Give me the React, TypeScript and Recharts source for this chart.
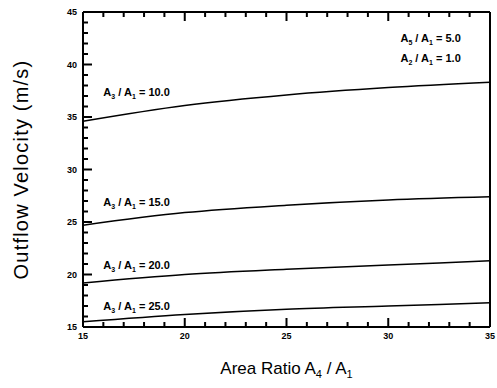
import React from "react";
import { LineChart, Line, XAxis, YAxis, ReferenceDot } from "recharts";

// ---- data ----
const areaRatio = [15, 20, 25, 30, 35];
const velR10 = [34.6, 36.1, 37.1, 37.8, 38.3];
const velR15 = [24.7, 25.9, 26.6, 27.1, 27.4];
const velR20 = [19.2, 20.0, 20.5, 20.9, 21.3];
const velR25 = [15.5, 16.2, 16.7, 17.0, 17.3];

const xTicks = [15,16,17,18,19,20,21,22,23,24,25,26,27,28,29,30,31,32,33,34,35];
const yTicks = [15,16,17,18,19,20,21,22,23,24,25,26,27,28,29,30,31,32,33,34,35,36,37,38,39,40,41,42,43,44,45];

// curve labels: [x, y, numerator subscript, denominator subscript, value]
const curveLabels: [number, number, string, string, string][] = [
  [16.0, 37.0, "3", "1", "10.0"],
  [16.0, 26.5, "3", "1", "15.0"],
  [16.0, 20.5, "3", "1", "20.0"],
  [16.0, 16.6, "3", "1", "25.0"],
];
const paramLabels: [number, number, string, string, string][] = [
  [30.6, 42.1, "5", "1", "5.0"],
  [30.6, 40.2, "2", "1", "1.0"],
];

const data = areaRatio.map((x, i) => ({
  x,
  r10: velR10[i],
  r15: velR15[i],
  r20: velR20[i],
  r25: velR25[i],
}));

const FONT = "'Liberation Sans', Arial, Helvetica, sans-serif";
const isMajor = (v: number) => v % 5 === 0;
const MAJ = 9;
const MIN = 5;
const TW = 2;
const TC = "#000";

const BottomTick = (props: any) => {
  const { x, y, payload } = props;
  const v = payload.value;
  const len = isMajor(v) ? MAJ : MIN;
  return (
    <g>
      <path d={`M${x},${y}L${x},${y - len}`} stroke={TC} strokeWidth={TW} fill="none" />
      {isMajor(v) && (
        <text x={x} y={y + 12} textAnchor="middle" fontSize={9} fontWeight="bold" fontFamily={FONT} fill="#000">
          {v}
        </text>
      )}
    </g>
  );
};
const TopTick = (props: any) => {
  const { x, y, payload } = props;
  const len = isMajor(payload.value) ? MAJ : MIN;
  return <path d={`M${x},${y}L${x},${y + len}`} stroke={TC} strokeWidth={TW} fill="none" />;
};
const LeftTick = (props: any) => {
  const { x, y, payload } = props;
  const v = payload.value;
  const len = isMajor(v) ? MAJ : MIN;
  return (
    <g>
      <path d={`M${x},${y}L${x + len},${y}`} stroke={TC} strokeWidth={TW} fill="none" />
      {isMajor(v) && (
        <text x={x - 6} y={y + 3} textAnchor="end" fontSize={9} fontWeight="bold" fontFamily={FONT} fill="#000">
          {v}
        </text>
      )}
    </g>
  );
};
const RightTick = (props: any) => {
  const { x, y, payload } = props;
  const len = isMajor(payload.value) ? MAJ : MIN;
  return <path d={`M${x},${y}L${x - len},${y}`} stroke={TC} strokeWidth={TW} fill="none" />;
};

const RatioText = ({ cx, cy, num, den, val }: any) => (
  <text x={cx} y={cy} fontSize={11} fontWeight="bold" fontFamily={FONT} fill="#000">
    A<tspan dy={3} fontSize={7}>{num}</tspan>
    <tspan dy={-3}> / A</tspan>
    <tspan dy={3} fontSize={7}>{den}</tspan>
    <tspan dy={-3}> = {val}</tspan>
  </text>
);

const XTitle = (props: any) => {
  const { viewBox } = props;
  const cx = viewBox.x + viewBox.width / 2;
  const y = viewBox.y + 47;
  return (
    <text x={cx} y={y} textAnchor="middle" fontSize={17} fontFamily={FONT} fill="#000">
      Area Ratio A<tspan dy={4} fontSize={11}>4</tspan>
      <tspan dy={-4}> / A</tspan>
      <tspan dy={4} fontSize={11}>1</tspan>
    </text>
  );
};

const YTitle = (props: any) => {
  const { viewBox } = props;
  const cy = viewBox.y + viewBox.height / 2;
  const x = 28;
  return (
    <text x={x} y={cy} textAnchor="middle" fontSize={20} letterSpacing={1.2} fontFamily={FONT} fill="#000" transform={`rotate(-90, ${x}, ${cy})`}>
      Outflow Velocity (m/s)
    </text>
  );
};

export default function App() {
  return (
    <div style={{ position: "absolute", left: 0, top: 0, background: "#fff" }}>
      <LineChart width={497} height={388} data={data} margin={{ top: 11, right: 6, bottom: 0, left: 0 }}>
        <XAxis xAxisId="b" dataKey="x" type="number" domain={[15, 35]} ticks={xTicks} interval={0} height={61}
          tickSize={0} tickMargin={0} tickLine={false} tick={BottomTick}
          axisLine={{ stroke: "#000", strokeWidth: 2 }} label={{ content: XTitle }} />
        <XAxis xAxisId="t" orientation="top" dataKey="x" type="number" domain={[15, 35]} ticks={xTicks} interval={0} height={1}
          tickSize={0} tickMargin={0} tickLine={false} tick={TopTick}
          axisLine={{ stroke: "#000", strokeWidth: 2 }} />
        <YAxis yAxisId="l" type="number" domain={[15, 45]} ticks={yTicks} interval={0} width={83}
          tickSize={0} tickMargin={0} tickLine={false} tick={LeftTick}
          axisLine={{ stroke: "#000", strokeWidth: 2 }} label={{ content: YTitle }} />
        <YAxis yAxisId="r" orientation="right" type="number" domain={[15, 45]} ticks={yTicks} interval={0} width={1}
          tickSize={0} tickMargin={0} tickLine={false} tick={RightTick}
          axisLine={{ stroke: "#000", strokeWidth: 2 }} />
        {(["r10", "r15", "r20", "r25"] as const).map((k) => (
          <Line key={k} xAxisId="b" yAxisId="l" dataKey={k} type="monotone" stroke="#000" strokeWidth={1.5} dot={false} isAnimationActive={false} />
        ))}
        {[...curveLabels, ...paramLabels].map(([x, y, num, den, val], i) => (
          <ReferenceDot key={i} xAxisId="b" yAxisId="l" x={x} y={y} r={0}
            shape={(p: any) => <RatioText cx={p.cx} cy={p.cy} num={num} den={den} val={val} />} />
        ))}
      </LineChart>
    </div>
  );
}
